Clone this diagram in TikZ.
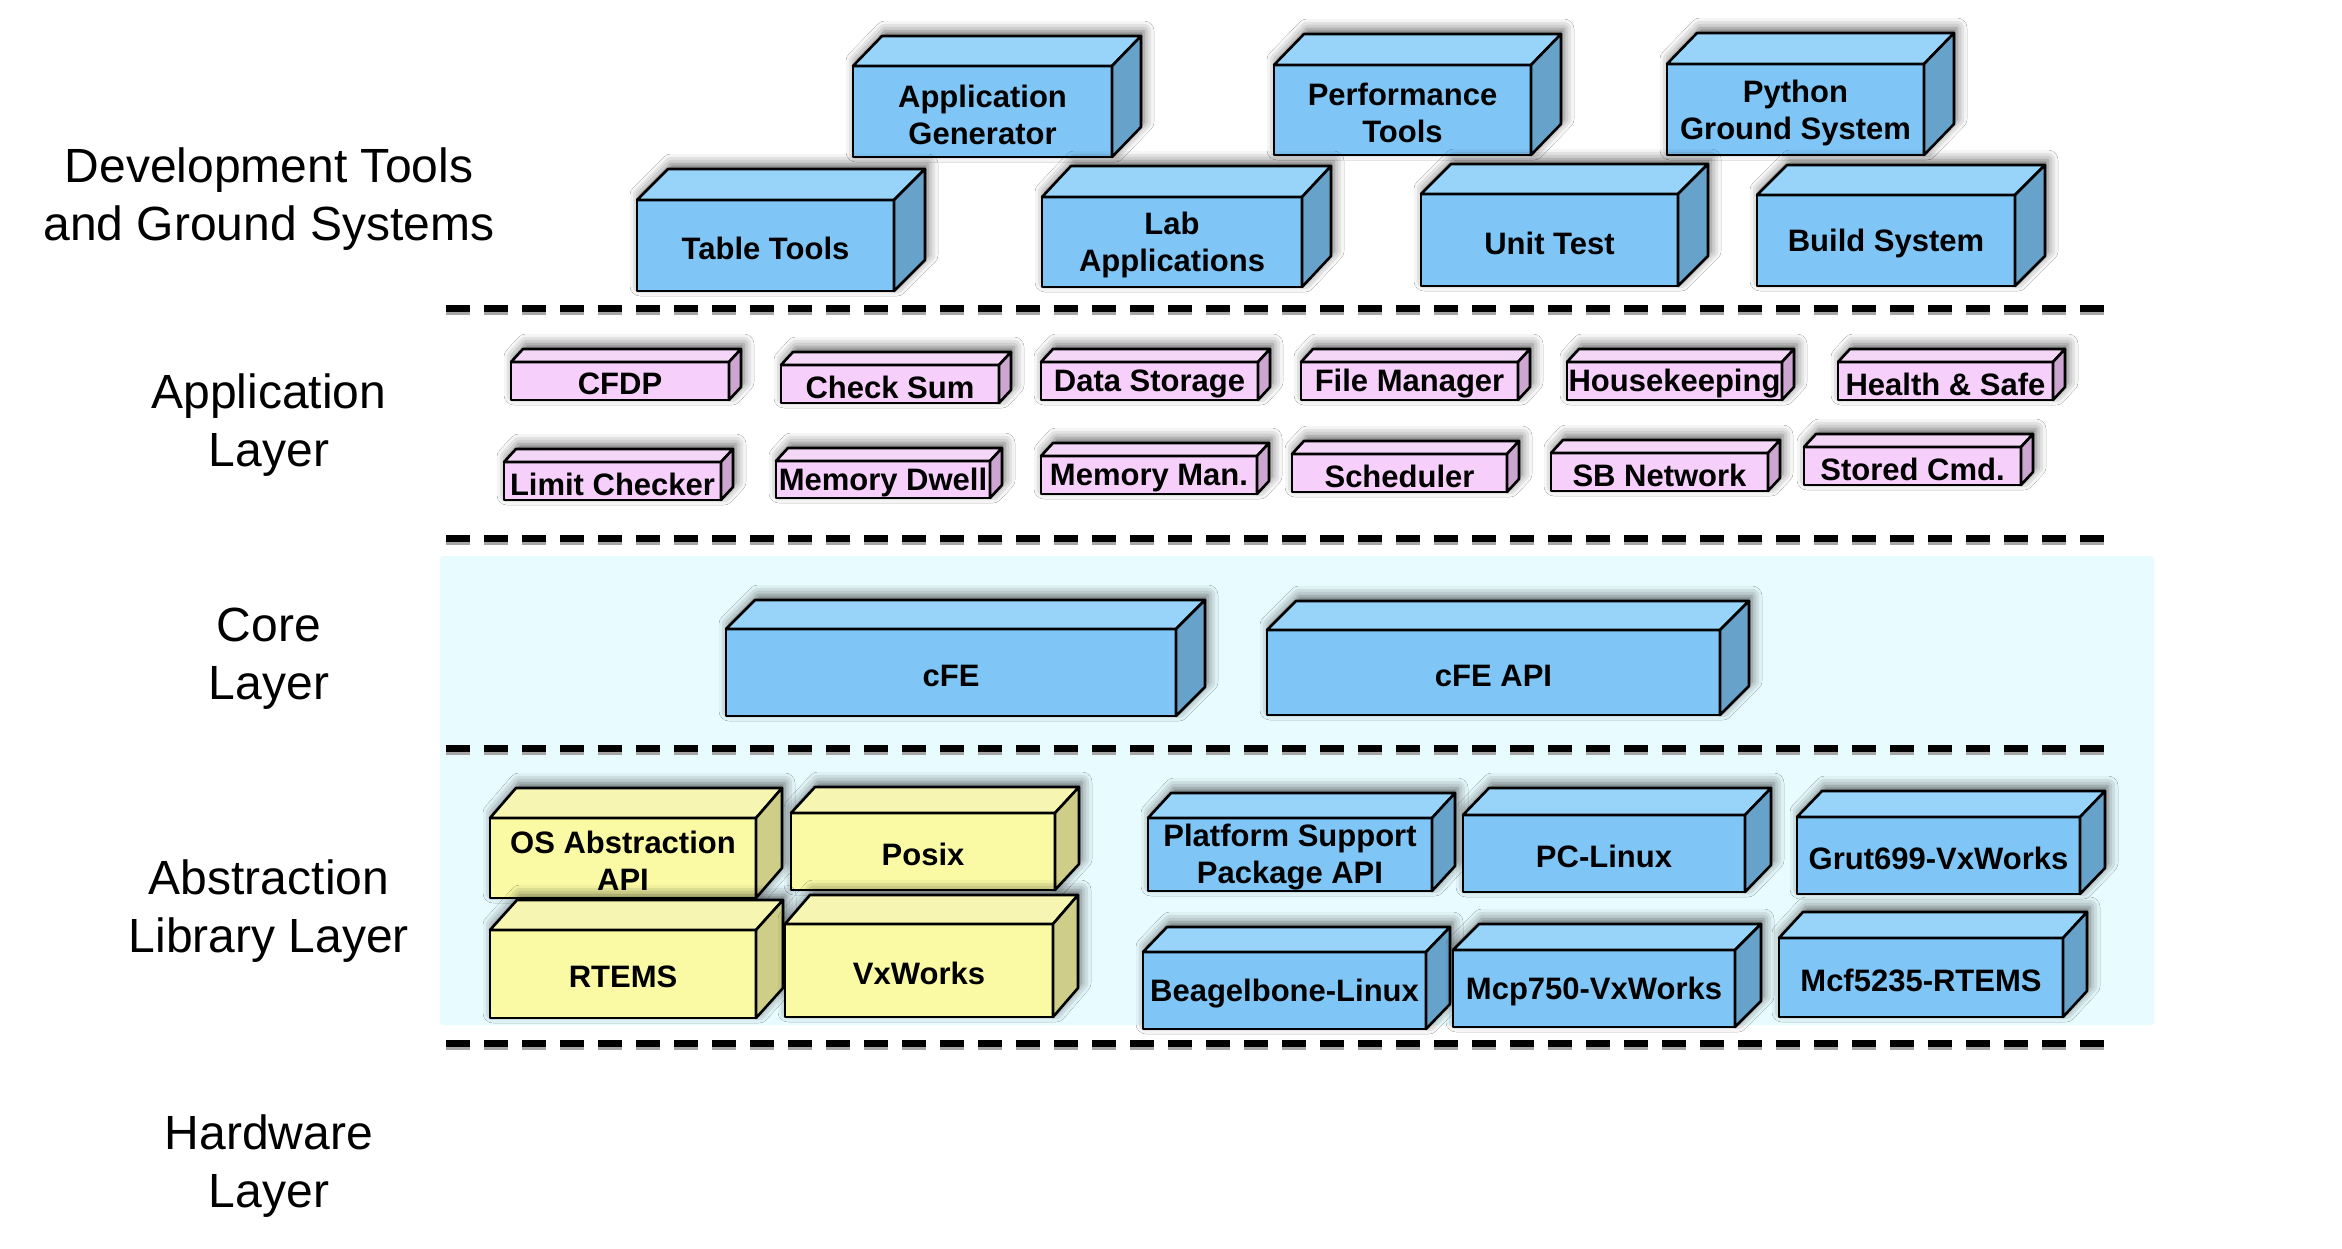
\documentclass[tikz,border=0pt]{standalone}
\usepackage{fontspec}
\setmainfont{Liberation Sans}
\usetikzlibrary{shadows.blur}
\definecolor{blueF}{RGB}{127,198,247}
\definecolor{blueT}{RGB}{152,212,249}
\definecolor{blueS}{RGB}{102,162,202}
\definecolor{pinkF}{RGB}{246,208,250}
\definecolor{pinkT}{RGB}{244,214,247}
\definecolor{pinkS}{RGB}{204,166,208}
\definecolor{yellowF}{RGB}{250,250,165}
\definecolor{yellowT}{RGB}{246,246,178}
\definecolor{yellowS}{RGB}{206,206,136}
\definecolor{cyanbg}{RGB}{232,251,254}
\tikzset{
  edgeline/.style={draw=black, line width=2.6pt, line join=round},
  frontface/.style={edgeline, rectangle, inner sep=0pt, outer sep=0pt},
  boxtext/.style={font=\bfseries\fontsize{31}{37}\selectfont, align=center, inner sep=0pt, yshift=-3pt},
  layertext/.style={font=\fontsize{48}{58}\selectfont, align=center, inner sep=0pt},
  cubeshadow/.style={blur shadow={shadow xshift=3pt, shadow yshift=5pt, shadow blur radius=10pt, shadow opacity=60}},
  sepline/.style={draw=black, line width=7pt, dash pattern=on 24pt off 14pt},
  sepshadow/.style={draw=black!35, line width=7pt, dash pattern=on 24pt off 14pt},
}
% #1 name, #2 colour set, #3 x1, #4 y1, #5 x2, #6 y2, #7 dx, #8 dy, #9 text
\newcommand{\drawcube}[9]{%
  \fill[#2F, cubeshadow] (#3,#6) -- (#3,#4) -- ({#3+#7},{#4-#8}) -- ({#5+#7},{#4-#8}) -- ({#5+#7},{#6-#8}) -- (#5,#6) -- cycle;
  \node[frontface, fill=#2F, minimum width={(#5-#3)*1pt}, minimum height={(#6-#4)*1pt}] (#1) at ({(#3+#5)/2},{(#4+#6)/2}) {};
  \filldraw[edgeline, fill=#2T] (#1.north west) -- ++(#7,-#8) -- ++({#5-#3},0) -- (#1.north east) -- cycle;
  \filldraw[edgeline, fill=#2S] (#1.north east) -- ++(#7,-#8) -- ++(0,{#6-#4}) -- (#1.south east) -- cycle;
  \node[boxtext] (#1-t) at (#1.center) {#9};
}
\begin{document}
\begin{tikzpicture}[x=1pt, y=-1pt]
\useasboundingbox (0,0) rectangle (2342,1248);
\fill[white] (0,0) rectangle (2342,1248);
% background band
\fill[cyanbg, rounded corners=3pt] (440,556) rectangle (2154,1025);
% separators
\foreach \yy in {308,538,748,1043} {
  \draw[sepshadow] (446,\yy+3.5) -- (2113,\yy+3.5);
  \draw[sepline] (446,\yy) -- (2113,\yy);
}
% layer labels
\node[layertext] (ldev) at (269,199) {Development Tools\\and Ground Systems};
\node[layertext] (lapp) at (269,425) {Application\\Layer};
\node[layertext] (lcore) at (269,659) {Core\\Layer};
\node[layertext] (labs) at (269,911) {Abstraction\\Library Layer};
\node[layertext] (lhw) at (269,1166) {Hardware\\Layer};
% development tools
\drawcube{appgen}{blue}{853}{66}{1112}{157}{29}{30}{Application\\Generator}
\drawcube{perf}{blue}{1274}{65}{1531}{155}{30}{31}{Performance\\Tools}
\drawcube{python}{blue}{1667}{64}{1924}{155}{30}{31}{Python\\Ground System}
\drawcube{tabletools}{blue}{637}{200}{894}{291}{31}{31}{Table Tools}
\drawcube{lab}{blue}{1042}{197}{1302}{287}{29}{31}{Lab\\Applications}
\drawcube{unittest}{blue}{1421}{194}{1678}{286}{30}{30}{Unit Test}
\drawcube{build}{blue}{1757}{195}{2015}{286}{30}{30}{Build System}
% application layer
\drawcube{cfdp}{pink}{511}{362}{729}{400}{12}{13}{CFDP}
\drawcube{checksum}{pink}{781}{365}{999}{403}{12}{13}{Check Sum}
\drawcube{datastorage}{pink}{1041}{362}{1258}{400}{12}{13}{Data Storage}
\drawcube{filemanager}{pink}{1301}{362}{1518}{400}{12}{13}{File Manager}
\drawcube{housekeeping}{pink}{1567}{362}{1782}{400}{12}{13}{Housekeeping}
\drawcube{health}{pink}{1838}{362}{2053}{400}{12}{13}{Health \& Safe}
\drawcube{limit}{pink}{504}{462}{721}{500}{12}{13}{Limit Checker}
\drawcube{memdwell}{pink}{776}{461}{990}{498}{12}{13}{Memory Dwell}
\drawcube{memman}{pink}{1041}{456}{1257}{494}{12}{13}{Memory Man.}
\drawcube{scheduler}{pink}{1292}{454}{1507}{492}{12}{13}{Scheduler}
\drawcube{sbnet}{pink}{1551}{453}{1768}{491}{12}{13}{SB Network}
\drawcube{stored}{pink}{1804}{447}{2021}{485}{12}{13}{Stored Cmd.}
% core layer
\drawcube{cfe}{blue}{726}{629}{1176}{716}{29}{29}{cFE}
\drawcube{cfeapi}{blue}{1267}{630}{1720}{715}{29}{29}{cFE API}
% abstraction library layer
\drawcube{osapi}{yellow}{490}{818}{756}{898}{26}{30}{OS Abstraction\\API}
\drawcube{posix}{yellow}{791}{813}{1055}{890}{24}{26}{Posix}
\drawcube{rtems}{yellow}{490}{930}{756}{1018}{27}{30}{RTEMS}
\drawcube{vxworks}{yellow}{785}{924}{1053}{1017}{25}{29}{VxWorks}
\drawcube{psp}{blue}{1148}{818}{1432}{891}{23}{25}{Platform Support\\Package API}
\drawcube{pclinux}{blue}{1463}{815}{1745}{892}{26}{27}{PC-Linux}
\drawcube{grut}{blue}{1797}{817}{2080}{894}{25}{26}{Grut699-VxWorks}
\drawcube{beagle}{blue}{1143}{952}{1426}{1029}{24}{25}{Beagelbone-Linux}
\drawcube{mcp}{blue}{1453}{950}{1735}{1027}{26}{26}{Mcp750-VxWorks}
\drawcube{mcf}{blue}{1779}{938}{2063}{1017}{24}{26}{Mcf5235-RTEMS}
\end{tikzpicture}
\end{document}
